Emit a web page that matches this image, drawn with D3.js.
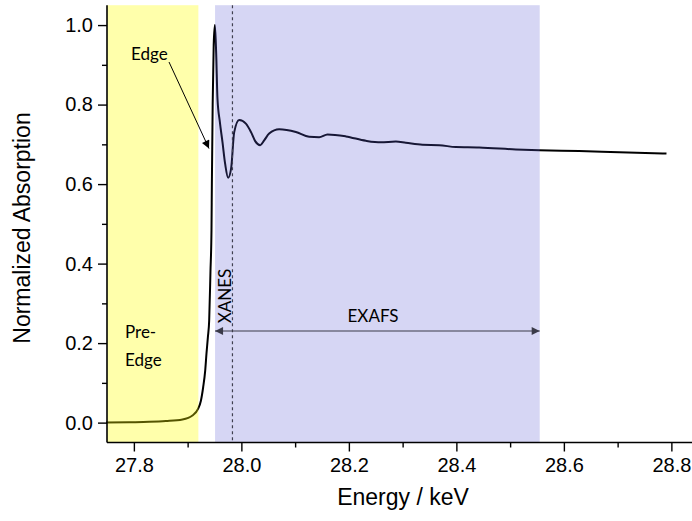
<!DOCTYPE html>
<html>
<head>
<meta charset="utf-8">
<script src="https://cdn.jsdelivr.net/npm/d3@7"></script>
<style>
  html, body { margin: 0; padding: 0; background: #fff; }
  svg { display: block; }
</style>
</head>
<body>
<svg id="chart" width="692" height="521"></svg>
<script>
// Normalized absorption spectrum across an X-ray absorption edge
const energy = [
  27.7485, 27.7913, 27.8285, 27.8595, 27.8904, 27.9090, 27.9196, 27.9247,
  27.9289, 27.9327, 27.9351, 27.9377, 27.9401, 27.9425, 27.9444, 27.9451,
  27.9466, 27.9485, 27.9507, 27.9531, 27.9555, 27.9600, 27.9648, 27.9699,
  27.9754, 27.9810, 27.9866, 27.9959, 28.0084, 28.0182, 28.0257, 28.0350,
  28.0424, 28.0517, 28.0703, 28.1014, 28.1261, 28.1447, 28.1602, 28.1944,
  28.2316, 28.2595, 28.2874, 28.3060, 28.3369, 28.3680, 28.3991, 28.4424,
  28.5107, 28.5541, 28.6285, 28.7029, 28.7909
];
const absorption = [
  0.000, 0.001, 0.002, 0.004, 0.008, 0.018, 0.035, 0.055,
  0.089, 0.131, 0.174, 0.215, 0.257, 0.380, 0.484, 0.600,
  0.800, 0.950, 1.000, 0.930, 0.816, 0.756, 0.706, 0.650,
  0.616, 0.640, 0.730, 0.761, 0.752, 0.730, 0.708, 0.698,
  0.710, 0.727, 0.738, 0.731, 0.719, 0.718, 0.725, 0.720,
  0.709, 0.705, 0.707, 0.704, 0.699, 0.698, 0.693, 0.692,
  0.687, 0.685, 0.683, 0.680, 0.677
];

// Spectral regions (keV)
const preEdgeRange = [27.75, 27.92];
const postEdgeRange = [27.951, 28.555];
const xanesLimit = 27.9834;

const xTicks = [27.8, 28.0, 28.2, 28.4, 28.6, 28.8];
const xMinorTicks = [27.9, 28.1, 28.3, 28.5, 28.7];
const yTicks = [0.0, 0.2, 0.4, 0.6, 0.8, 1.0];
const yMinorTicks = [0.1, 0.3, 0.5, 0.7, 0.9];

const svg = d3.select("#chart");
const plotLeft = 107, plotTop = 5.2, plotBottom = 442.5;

const x = d3.scaleLinear().domain([27.75, 28.85]).range([plotLeft, plotLeft + 1.1 * 537.5]);
const y = d3.scaleLinear().domain([-0.05, 1.05]).range([plotBottom, plotTop]);

const defs = svg.append("defs");
function arrowMarker(id, color, w, h, orient) {
  defs.append("marker")
    .attr("id", id)
    .attr("viewBox", "0 0 10 10")
    .attr("refX", 10).attr("refY", 5)
    .attr("markerWidth", w).attr("markerHeight", h)
    .attr("markerUnits", "userSpaceOnUse")
    .attr("orient", orient)
    .append("path")
    .attr("d", "M0,0 L10,5 L0,10 Z")
    .attr("fill", color);
}
arrowMarker("headBlack", "#000", 10, 8, "auto");
arrowMarker("headGrey", "#3a3a48", 9, 8, "auto-start-reverse");

// Spectrum
const line = d3.line()
  .x((d, i) => x(energy[i]))
  .y(d => y(d))
  .curve(d3.curveMonotoneX);

svg.append("path")
  .datum(absorption)
  .attr("d", line)
  .attr("fill", "none")
  .attr("stroke", "#000")
  .attr("stroke-width", 2)
  .attr("stroke-linejoin", "round");

// Translucent region shading over the spectrum
svg.append("rect")
  .attr("x", x(preEdgeRange[0])).attr("y", plotTop)
  .attr("width", x(preEdgeRange[1]) - x(preEdgeRange[0]))
  .attr("height", plotBottom - plotTop)
  .attr("fill", "#ffff00").attr("fill-opacity", 0.33);

svg.append("rect")
  .attr("x", x(postEdgeRange[0])).attr("y", plotTop)
  .attr("width", x(postEdgeRange[1]) - x(postEdgeRange[0]))
  .attr("height", plotBottom - plotTop)
  .attr("fill", "#5c5cd4").attr("fill-opacity", 0.25);

// XANES / EXAFS boundary
svg.append("line")
  .attr("x1", x(xanesLimit)).attr("x2", x(xanesLimit))
  .attr("y1", plotTop).attr("y2", plotBottom)
  .attr("stroke", "#404050").attr("stroke-width", 1.2)
  .attr("stroke-dasharray", "3,3");

// Axes
const xAxis = svg.append("g").attr("transform", `translate(0,${plotBottom})`);
xAxis.call(d3.axisBottom(x).tickValues(xTicks).tickFormat(d3.format(".1f")).tickSize(9).tickPadding(6));
const xMinor = xAxis.append("g").call(d3.axisBottom(x).tickValues(xMinorTicks).tickFormat("").tickSize(5));
xMinor.select(".domain").remove();

const yAxis = svg.append("g").attr("transform", `translate(${plotLeft},0)`);
yAxis.call(d3.axisLeft(y).tickValues(yTicks).tickFormat(d3.format(".1f")).tickSize(9).tickPadding(5));
const yMinor = yAxis.append("g").call(d3.axisLeft(y).tickValues(yMinorTicks).tickFormat("").tickSize(5));
yMinor.select(".domain").remove();

xAxis.select(".domain").attr("d", `M${plotLeft},0H692`);
yAxis.select(".domain").attr("d", `M0,${plotTop}V${plotBottom}`);

svg.selectAll(".domain").attr("stroke", "#000").attr("stroke-width", 1.6);
svg.selectAll(".tick line").attr("stroke", "#000").attr("stroke-width", 1.4);
svg.selectAll(".tick text")
  .attr("font-family", "Liberation Sans, Arial, sans-serif")
  .attr("font-size", 20)
  .attr("fill", "#000");

// Axis titles
svg.append("text")
  .attr("x", 403).attr("y", 505)
  .attr("text-anchor", "middle")
  .attr("font-family", "Liberation Sans, Arial, sans-serif")
  .attr("font-size", 23)
  .text("Energy / keV");

svg.append("text")
  .attr("transform", "translate(30,228) rotate(-90)")
  .attr("text-anchor", "middle")
  .attr("font-family", "Liberation Sans, Arial, sans-serif")
  .attr("font-size", 23)
  .text("Normalized Absorption");

// Annotations
const annoFont = "Lato, 'Open Sans', sans-serif";
svg.append("text")
  .attr("x", 131).attr("y", 60)
  .attr("font-family", annoFont).attr("font-size", 17)
  .text("Edge");

svg.append("line")
  .attr("x1", 169).attr("y1", 62)
  .attr("x2", 209).attr("y2", 148.5)
  .attr("stroke", "#000").attr("stroke-width", 1)
  .attr("marker-end", "url(#headBlack)");

svg.append("text")
  .attr("x", 125).attr("y", 338)
  .attr("font-family", annoFont).attr("font-size", 17)
  .text("Pre-");
svg.append("text")
  .attr("x", 125).attr("y", 366)
  .attr("font-family", annoFont).attr("font-size", 17)
  .text("Edge");

svg.append("text")
  .attr("transform", `translate(${x(xanesLimit) - 1.5},296) rotate(-90)`)
  .attr("text-anchor", "middle")
  .attr("font-family", annoFont).attr("font-size", 17)
  .text("XANES");

svg.append("text")
  .attr("x", 373).attr("y", 322)
  .attr("text-anchor", "middle")
  .attr("font-family", annoFont).attr("font-size", 17)
  .text("EXAFS");

svg.append("line")
  .attr("x1", x(postEdgeRange[0])).attr("x2", x(postEdgeRange[1]))
  .attr("y1", 331).attr("y2", 331)
  .attr("stroke", "#3a3a48").attr("stroke-width", 1.2)
  .attr("marker-start", "url(#headGrey)")
  .attr("marker-end", "url(#headGrey)");
</script>
</body>
</html>
